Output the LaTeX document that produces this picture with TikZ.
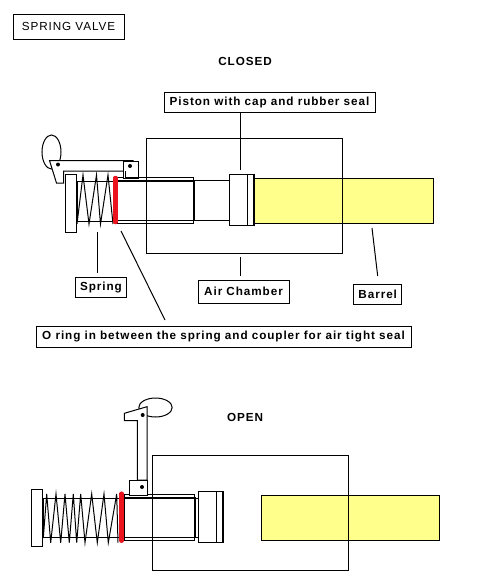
\documentclass[tikz,border=0pt]{standalone}
\usepackage{fontspec}
\setmainfont{Liberation Sans}
\newfontfamily\lblfont[LetterSpace=8]{Liberation Sans}
\definecolor{barrelyellow}{RGB}{255,255,140}
\definecolor{oring}{RGB}{235,20,30}
\tikzset{
  ln/.style={draw=black,line width=1pt},
  thk/.style={draw=black,line width=1.8pt},
  redring/.style={draw=oring,line width=4.5pt,line cap=round},
  barrel/.style={draw=black,line width=1pt,fill=barrelyellow},
  lbl/.style={draw=black,line width=1pt,fill=white,inner sep=0pt,anchor=center,font=\lblfont\bfseries\fontsize{11.7}{13}\selectfont},
  head/.style={inner sep=0pt,font=\lblfont\bfseries\fontsize{11.7}{13}\selectfont},
  pin/.style={fill=black,circle,inner sep=0pt,minimum size=4pt}
}
\begin{document}
\begin{tikzpicture}[x=1pt,y=-1pt]
\useasboundingbox[fill=white] (0,0) rectangle (499,582);
% ---------- closed
\draw[barrel] (254,178) rectangle (433,223);
\draw[ln] (146.5,138) rectangle (342,253);
\draw[ln] (194,180.5) -- (229.5,180.5) (194,220.5) -- (229.5,220.5);
\draw[ln,fill=white] (229.5,174.5) rectangle (254,225.5);
\draw[ln] (247.5,174.5) -- (247.5,225.5);
\draw[thk] (254,174.5) -- (254,225.5);
\draw[ln,fill=white] (65.5,174) rectangle (76.5,232);
\draw[ln] (76.5,181) -- (114,181) (76.5,221) -- (114,221);
\draw[thk] (77,181) -- (77,221);
\draw[ln] (77,224) -- (83,175) -- (89,224) -- (96.5,175) -- (100.5,224) -- (108,175) -- (113,224);
\draw[ln] (117,177) rectangle (193,223);
\draw[thk] (117,181) -- (194,181) -- (194,221);
\draw[ln] (117,220.8) -- (194,220.8);
\draw[redring] (115.5,178) -- (115.5,222);
\draw[ln] (51.5,152) ellipse (9.5 and 17);
\draw[ln,fill=white] (49.5,160.5) -- (133,160.5) -- (133,170) -- (125,171) -- (63.5,171) -- (63.5,183) -- (56.5,183) -- cycle;
\node[pin] (p1) at (58,164.5) {};
\draw[ln,fill=white] (123,161) rectangle (138,178);
\node[pin] (p2) at (130,166) {};
\draw[thk,line width=2.4pt] (125,178) -- (138,178);
\draw[ln] (125,171) -- (125,178);
% ---------- open
\draw[barrel] (261.5,495) rectangle (439,540);
\draw[ln] (152.7,455.7) rectangle (348,570);
\draw[ln] (195,498) -- (198.3,498) (195,537.5) -- (198.3,537.5);
\draw[ln,fill=white] (198.3,491.3) rectangle (223.3,542.7);
\draw[ln] (216.7,491.3) -- (216.7,542.7);
\draw[thk] (223.3,491.3) -- (223.3,542.7);
\draw[ln,fill=white] (31,489.3) rectangle (42.7,546.7);
\draw[ln] (42.7,498.3) -- (120,498.3) (42.7,537.7) -- (120,537.7);
\draw[thk] (43.3,498.3) -- (43.3,537.7);
\draw[ln] (43.3,538) -- (46.7,494) -- (50.7,542.7) -- (56,494) -- (60.7,542.7) -- (65,494) -- (69.3,542.7) -- (73.3,494) -- (76.7,542.7) -- (80.7,494) -- (85,542.7) -- (91.7,494) -- (97.3,542.7) -- (104,494) -- (108.3,542.7) -- (116.7,494) -- (118,542.7);
\draw[ln] (124,494.3) rectangle (194.7,540.7);
\draw[thk] (124,497.7) -- (195.3,497.7) -- (195.3,537.7);
\draw[ln] (124,537.7) -- (195.3,537.7);
\draw[redring] (121.7,493.7) -- (121.7,540.7);
\draw[ln] (155.5,407.5) ellipse (16.7 and 9.5);
\draw[ln,fill=white] (124.3,413.3) -- (147,406.7) -- (147,480) -- (137.3,480) -- (137.3,420.7) -- (124.3,420.7) -- cycle;
\node[pin] (p3) at (142.7,415) {};
\draw[ln,fill=white] (129.3,480) rectangle (147,495);
\node[pin] (p4) at (142,487) {};
% ---------- labels
\node[lbl,minimum width=111pt,minimum height=25pt] (title) at (68.5,26.5) {\mdseries SPRING VALVE};
\node[head] (closed) at (245,61) {CLOSED};
\node[head] (open) at (245,417) {OPEN};
\node[lbl,minimum width=211pt,minimum height=20pt] (piston) at (269.5,102) {Piston with cap and rubber seal};
\node[lbl,minimum width=51pt,minimum height=20pt] (spring) at (101,287) {Spring};
\node[lbl,minimum width=91pt,minimum height=23pt] (air) at (243.5,291.5) {Air Chamber};
\node[lbl,minimum width=47.5pt,minimum height=20pt] (barrellbl) at (377.7,294) {Barrel};
\node[lbl,minimum width=375pt,minimum height=21pt] (oringlbl) at (223.5,336.5) {O ring in between the spring and coupler for air tight seal};
% ---------- leaders
\coordinate (a1) at (240,170);
\coordinate (a2) at (97,232);
\coordinate (a2e) at (97,273);
\coordinate (a3) at (121,231);
\coordinate (a3e) at (165,320);
\coordinate (a4) at (240,257);
\coordinate (a4e) at (240,276);
\coordinate (a5) at (372,228);
\coordinate (a5e) at (377.7,276);
\coordinate (a1s) at (240,112);
\draw[ln] (a1s) -- (a1);
\draw[ln] (a2) -- (a2e);
\draw[ln] (a3) -- (a3e);
\draw[ln] (a4) -- (a4e);
\draw[ln] (a5) -- (a5e);
\end{tikzpicture}
\end{document}
